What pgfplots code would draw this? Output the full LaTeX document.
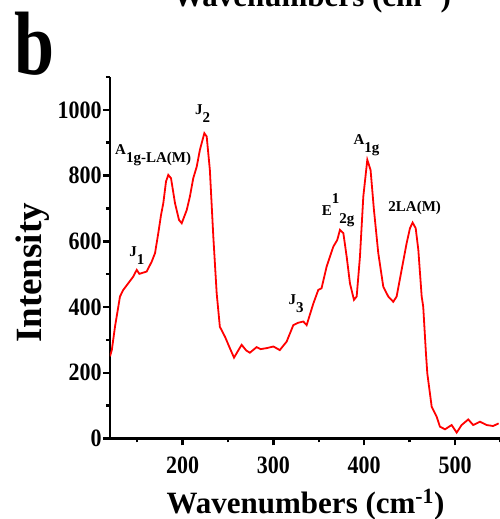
\documentclass[border=0pt]{standalone}
\usepackage{fontspec}
\setmainfont{Liberation Serif}
\usepackage{pgfplots}
\pgfplotsset{compat=1.18}
\newcommand{\lo}[1]{\raisebox{-8pt}{#1}}
\begin{document}
\begin{tikzpicture}[peak/.style={font=\bfseries\fontsize{15}{17}\selectfont, anchor=base west, inner sep=0pt}]
\useasboundingbox (-110pt,-80.5pt) rectangle (389pt,438.5pt);
\begin{axis}[
  at={(0,0)}, anchor=south west,
  scale only axis, width=390.4pt, height=361.5pt,
  xmin=120, xmax=550, ymin=0, ymax=1100,
  axis x line*=bottom, axis y line*=left,
  axis line style={line width=2.5pt},
  xtick={200,300,400,500}, ytick={0,200,...,1000},
  minor xtick={150,250,...,550}, minor ytick={100,300,...,1100},
  tick align=outside, major tick length=7pt, minor tick length=4pt,
  every tick/.style={black, line width=2.5pt},
  ticklabel style={font=\bfseries\fontsize{25}{27}\selectfont, xscale=0.88},
  xticklabel style={yshift=-8pt},
  yticklabel style={xshift=2pt},
  /pgf/number format/assume math mode=true,
  /pgf/number format/1000 sep={},
]
\addplot[red, line width=1.8pt] coordinates {
(120,250) (122,269) (125.5,340) (131,432) (134.6,452) (140,472) (145.7,493)
(149.4,513) (152.3,501) (160.4,508) (165.9,538) (169.6,564) (173.2,625)
(176.2,680) (178.7,716) (181.7,782) (184.2,802) (187.2,792) (191.6,716)
(196,665) (199,655) (204.5,695) (208,736) (211.7,792) (215.5,827) (219,878)
(223.9,929) (226.5,919) (230,817) (233.8,614) (237.5,442) (241,340)
(246.6,310) (252,275) (256.6,246) (260,262) (265,285) (270,268) (274,261)
(281.5,278) (286,272) (292.6,275) (300,280) (307,269) (314.6,295)
(321.9,345) (327,352) (332.9,356) (336.6,345) (344,411) (349.4,452)
(353,457) (358.6,523) (366,584) (370.3,604) (373.3,635) (377,625)
(380.7,553) (384.3,472) (388.7,422) (391.7,432) (395.3,553) (399,736)
(403.4,848) (407,817) (410.7,696) (415.5,564) (421,462) (426.5,432)
(432,416) (435.7,432) (441.2,513) (446.7,594) (450.4,640) (453.3,657)
(456.7,640) (459.6,574) (463.3,432) (465,401) (468,259) (469.5,198)
(474.3,97) (479.8,66) (483.4,36) (489,28) (496.3,41) (501.8,18)
(507.3,41) (514.6,58) (520,41) (527.5,51) (534.8,41) (542,38) (548,46)
};
\node[peak] at (axis cs:125.5,863) {A\lo{1g-LA(M)}};
\node[peak] at (axis cs:213.6,985) {J\lo{2}};
\node[peak] at (axis cs:141,553) {J\lo{1}};
\node[peak] at (axis cs:316.4,409) {J\lo{3}};
\node[peak] at (axis cs:353.2,680) {E\raisebox{12pt}{1}\lo{2g}};
\node[peak] at (axis cs:388,896) {A\lo{1g}};
\node[peak] at (axis cs:426.5,692) {2LA(M)};
\end{axis}
\node[font=\bfseries\fontsize{37}{39}\selectfont, rotate=90, anchor=base] at (-68pt,165.5pt) {Intensity};
\node[font=\bfseries\fontsize{31}{34}\selectfont, anchor=base] at (195.5pt,-74.5pt) {Wavenumbers (cm\textsuperscript{-1})};
\node[font=\bfseries\fontsize{31}{34}\selectfont, anchor=base] at (202pt,431.5pt) {Wavenumbers (cm\textsuperscript{-1})};
\node[font=\bfseries\fontsize{90}{90}\selectfont, anchor=base west, xscale=0.8, inner sep=0pt] at (-96pt,363.5pt) {b};
\end{tikzpicture}
\end{document}
